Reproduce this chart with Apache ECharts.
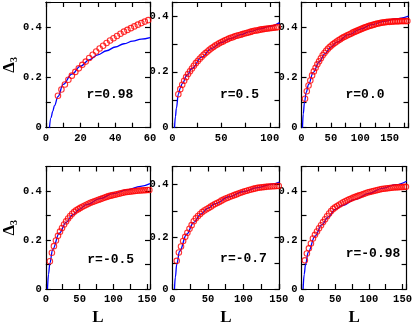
<!DOCTYPE html>
<html lang="en">
<head>
	<meta charset="UTF-8">
	<title>Delta3</title>
	<script src="https://cdn.jsdelivr.net/npm/echarts@6/dist/echarts.min.js"></script>
	<style>
		html, body { margin: 0; padding: 0; background: #fff; }
		#charts { width: 415px; height: 327px; }
	</style>
</head>
<body>
<div id="charts"></div>
<script>
	// blue = theory curve, red = data (L, value)
	var p1Blue = [[2.1,0],[3,0.04],[4,0.065],[5,0.088],[7,0.124],[10,0.172],[15,0.213],[20,0.245],[25,0.27],[30,0.29],[35,0.306],[40,0.321],[45,0.334],[50,0.344],[55,0.352],[60,0.358]];
	var p1Red = [[7,0.127],[9,0.152],[11,0.172],[13,0.191],[15,0.207],[17,0.222],[19,0.236],[21,0.25],[23,0.263],[25,0.277],[27,0.29],[29,0.303],[31,0.315],[33,0.326],[35,0.337],[37,0.347],[39,0.356],[41,0.365],[43,0.374],[45,0.382],[47,0.389],[49,0.396],[51,0.403],[53,0.41],[55,0.416],[57,0.422],[59,0.428]];

	var p2Blue = [[2.1,0],[3,0.04],[4,0.07],[6,0.12],[8,0.142],[10,0.158],[15,0.188],[20,0.212],[30,0.253],[40,0.283],[50,0.305],[60,0.32],[70,0.333],[80,0.344],[90,0.354],[100,0.363],[110,0.376]];
	var p2Red = [[6,0.12],[8,0.138],[10,0.154],[12,0.168],[14,0.181],[16,0.192],[18,0.202],[20,0.212],[22,0.222],[24,0.231],[26,0.239],[28,0.247],[30,0.254],[32,0.261],[34,0.267],[36,0.273],[38,0.279],[40,0.284],[42,0.289],[44,0.294],[46,0.298],[48,0.302],[50,0.306],[52,0.309],[54,0.313],[56,0.316],[58,0.319],[60,0.322],[62,0.324],[64,0.327],[66,0.329],[68,0.331],[70,0.333],[72,0.335],[74,0.337],[76,0.339],[78,0.341],[80,0.343],[82,0.345],[84,0.347],[86,0.348],[88,0.349],[90,0.351],[92,0.352],[94,0.353],[96,0.354],[98,0.355],[100,0.356],[102,0.357],[104,0.358],[106,0.359],[108,0.36]];

	var p3Blue = [[1.7,0],[3,0.055],[5,0.1],[8,0.14],[12,0.172],[20,0.22],[30,0.262],[40,0.295],[50,0.32],[60,0.34],[80,0.37],[100,0.392],[120,0.41],[140,0.423],[160,0.433],[182,0.444]];
	var p3Red = [[6,0.115],[9,0.145],[12,0.168],[15,0.188],[18,0.208],[21,0.224],[24,0.238],[27,0.252],[30,0.264],[33,0.276],[36,0.288],[39,0.297],[42,0.306],[45,0.314],[48,0.321],[51,0.327],[54,0.333],[57,0.338],[60,0.343],[63,0.348],[66,0.352],[69,0.357],[72,0.361],[75,0.364],[78,0.368],[81,0.371],[84,0.374],[87,0.378],[90,0.381],[93,0.384],[96,0.387],[99,0.39],[102,0.393],[105,0.396],[108,0.399],[111,0.401],[114,0.404],[117,0.406],[120,0.408],[123,0.41],[126,0.412],[129,0.414],[132,0.415],[135,0.417],[138,0.418],[141,0.419],[144,0.42],[147,0.421],[150,0.421],[153,0.422],[156,0.422],[159,0.423],[162,0.423],[165,0.423],[168,0.424],[171,0.424],[174,0.424],[177,0.424],[180,0.424]];

	var p4Blue = [[2.5,0],[4,0.06],[6,0.105],[10,0.16],[20,0.228],[30,0.272],[40,0.303],[50,0.326],[60,0.344],[80,0.369],[100,0.389],[120,0.405],[140,0.419],[154,0.43]];
	var p4Red = [[6,0.113],[9,0.148],[12,0.175],[15,0.198],[18,0.217],[21,0.234],[24,0.249],[27,0.263],[30,0.276],[33,0.288],[36,0.298],[39,0.307],[42,0.315],[45,0.321],[48,0.326],[51,0.331],[54,0.336],[57,0.34],[60,0.344],[63,0.348],[66,0.352],[69,0.355],[72,0.358],[75,0.361],[78,0.364],[81,0.367],[84,0.37],[87,0.373],[90,0.376],[93,0.379],[96,0.381],[99,0.383],[102,0.385],[105,0.387],[108,0.389],[111,0.391],[114,0.393],[117,0.395],[120,0.396],[123,0.397],[126,0.398],[129,0.399],[132,0.4],[135,0.401],[138,0.402],[141,0.402],[144,0.403],[147,0.403],[150,0.404],[153,0.404]];

	var p5Blue = [[2.8,0],[4,0.045],[6,0.095],[10,0.145],[20,0.21],[30,0.256],[40,0.287],[50,0.31],[60,0.327],[80,0.354],[100,0.374],[120,0.389],[140,0.402],[151,0.41]];
	var p5Red = [[6,0.108],[9,0.14],[12,0.163],[15,0.184],[18,0.2],[21,0.216],[24,0.231],[27,0.245],[30,0.26],[33,0.271],[36,0.28],[39,0.288],[42,0.295],[45,0.301],[48,0.306],[51,0.311],[54,0.316],[57,0.321],[60,0.326],[63,0.33],[66,0.334],[69,0.339],[72,0.343],[75,0.347],[78,0.35],[81,0.354],[84,0.357],[87,0.36],[90,0.363],[93,0.366],[96,0.369],[99,0.372],[102,0.375],[105,0.377],[108,0.38],[111,0.382],[114,0.384],[117,0.386],[120,0.388],[123,0.389],[126,0.39],[129,0.391],[132,0.392],[135,0.393],[138,0.393],[141,0.394],[144,0.394],[147,0.395],[150,0.395]];

	var p6Blue = [[2.4,0],[4,0.06],[6,0.1],[10,0.15],[20,0.216],[30,0.262],[40,0.294],[50,0.325],[60,0.34],[80,0.366],[100,0.39],[120,0.411],[140,0.426],[156,0.44]];
	var p6Red = [[5,0.117],[8,0.145],[11,0.166],[14,0.186],[17,0.206],[20,0.221],[23,0.235],[26,0.248],[29,0.26],[32,0.273],[35,0.285],[38,0.297],[41,0.308],[44,0.318],[47,0.327],[50,0.333],[53,0.339],[56,0.344],[59,0.349],[62,0.354],[65,0.358],[68,0.362],[71,0.366],[74,0.369],[77,0.373],[80,0.376],[83,0.379],[86,0.382],[89,0.385],[92,0.388],[95,0.391],[98,0.394],[101,0.396],[104,0.398],[107,0.4],[110,0.402],[113,0.404],[116,0.406],[119,0.408],[122,0.409],[125,0.41],[128,0.411],[131,0.412],[134,0.413],[137,0.414],[140,0.415],[143,0.415],[146,0.416],[149,0.416],[152,0.417],[155,0.417]];

	var notes = ['r=0.98', 'r=0.5', 'r=0.0', 'r=-0.5', 'r=-0.7', 'r=-0.98'];
	var xMaxes = [60, 110, 182, 154, 151, 156];
	var xSteps = [10, 25, 25, 25, 25, 25];
	var xLabelSteps = [20, 50, 50, 50, 50, 50];
	var yMaxes = [0.5, 0.45, 0.5, 0.5, 0.47, 0.5];

	(function (echarts) {
		var reds = [p1Red, p2Red, p3Red, p4Red, p5Red, p6Red];
		var blues = [p1Blue, p2Blue, p3Blue, p4Blue, p5Blue, p6Blue];
		var lefts = [43, 172.5, 301.5];
		var tops = [2, 166.5];
		var heights = [125.7, 126.8];
		var notePos = [[110, 94.5], [239.5, 94.5], [365, 94.5], [110.7, 259.7], [243.5, 259], [373, 253.5]];
		var mono = '"Liberation Mono", "DejaVu Sans Mono", monospace';
		var serif = '"Liberation Serif", "DejaVu Serif", serif';
		var lineStyle = {color: '#000', width: 1.2};

		var grids = [], xAxes = [], yAxes = [], series = [], texts = [];
		for (var i = 0; i < 6; i++) {
			var row = Math.floor(i / 3), col = i % 3;
			grids.push({left: lefts[col], top: tops[row], width: 107, height: heights[row]});

			(function (labStep) {
				var base = {
					type: 'value', gridIndex: i, min: 0, max: xMaxes[i], interval: xSteps[i],
					axisLine: {onZero: false, lineStyle: lineStyle},
					axisTick: {inside: true, length: 5, lineStyle: lineStyle},
					splitLine: {show: false},
					axisLabel: {
						margin: 5, color: '#000', fontFamily: mono, fontSize: 10.5, fontWeight: 'bold',
						formatter: function (v) { return v % labStep === 0 ? String(v) : ''; }
					}
				};
				var bottom = echarts.util.merge({position: 'bottom'}, base, true);
				if (row === 1) {
					bottom.name = 'L';
					bottom.nameLocation = 'middle';
					bottom.nameGap = 20;
					bottom.nameTextStyle = {fontFamily: serif, fontWeight: 'bold', fontSize: 17, color: '#000'};
				}
				var top = echarts.util.merge({position: 'top'}, base, true);
				top.axisLabel = {show: false};
				xAxes.push(bottom, top);
			})(xLabelSteps[i]);

			var yBase = {
				type: 'value', gridIndex: i, min: 0, max: yMaxes[i], interval: 0.1,
				axisLine: {onZero: false, lineStyle: lineStyle},
				axisTick: {inside: true, length: 5, lineStyle: lineStyle},
				splitLine: {show: false},
				axisLabel: {
					margin: 4, color: '#000', fontFamily: mono, fontSize: 10.5, fontWeight: 'bold',
					formatter: function (v) {
						var k = Math.round(v * 10);
						if (Math.abs(v * 10 - k) > 1e-6 || k % 2 !== 0) return '';
						return k === 0 ? '0' : (k / 10).toFixed(1);
					}
				}
			};
			var left = echarts.util.merge({position: 'left'}, yBase, true);
			if (col === 0) {
				left.name = '{d|Δ}{s|3}';
				left.nameLocation = 'middle';
				left.nameRotate = 90;
				left.nameGap = 25;
				left.nameTextStyle = {
					color: '#000',
					rich: {
						d: {fontFamily: serif, fontWeight: 'bold', fontSize: 17, color: '#000'},
						s: {fontFamily: serif, fontWeight: 'bold', fontSize: 10, color: '#000', verticalAlign: 'bottom', padding: [9, 0, 0, 0]}
					}
				};
			}
			var right = echarts.util.merge({position: 'right'}, yBase, true);
			right.axisLabel = {show: false};
			yAxes.push(left, right);

			series.push({
				type: 'line', xAxisIndex: i * 2, yAxisIndex: i * 2, data: blues[i],
				smooth: 0.4, smoothMonotone: 'x', showSymbol: false, z: 2,
				lineStyle: {color: '#0000ff', width: 1.3}, silent: true
			});
			series.push({
				type: 'scatter', xAxisIndex: i * 2, yAxisIndex: i * 2, data: reds[i],
				symbol: 'circle', symbolSize: 5.5, z: 3,
				itemStyle: {color: 'rgba(0,0,0,0)', borderColor: '#ff0000', borderWidth: 1.1}
			});

			texts.push({
				type: 'text', x: notePos[i][0], y: notePos[i][1], z: 10,
				style: {
					text: notes[i], fill: '#000', align: 'center', verticalAlign: 'middle',
					font: 'bold 13px ' + mono
				}
			});
		}

		var chart = echarts.init(document.getElementById('charts'), null, {renderer: 'canvas'});
		chart.setOption({
			animation: false,
			backgroundColor: '#fff',
			grid: grids,
			xAxis: xAxes,
			yAxis: yAxes,
			series: series,
			graphic: texts
		});
	})(echarts);
</script>
</body>
</html>
